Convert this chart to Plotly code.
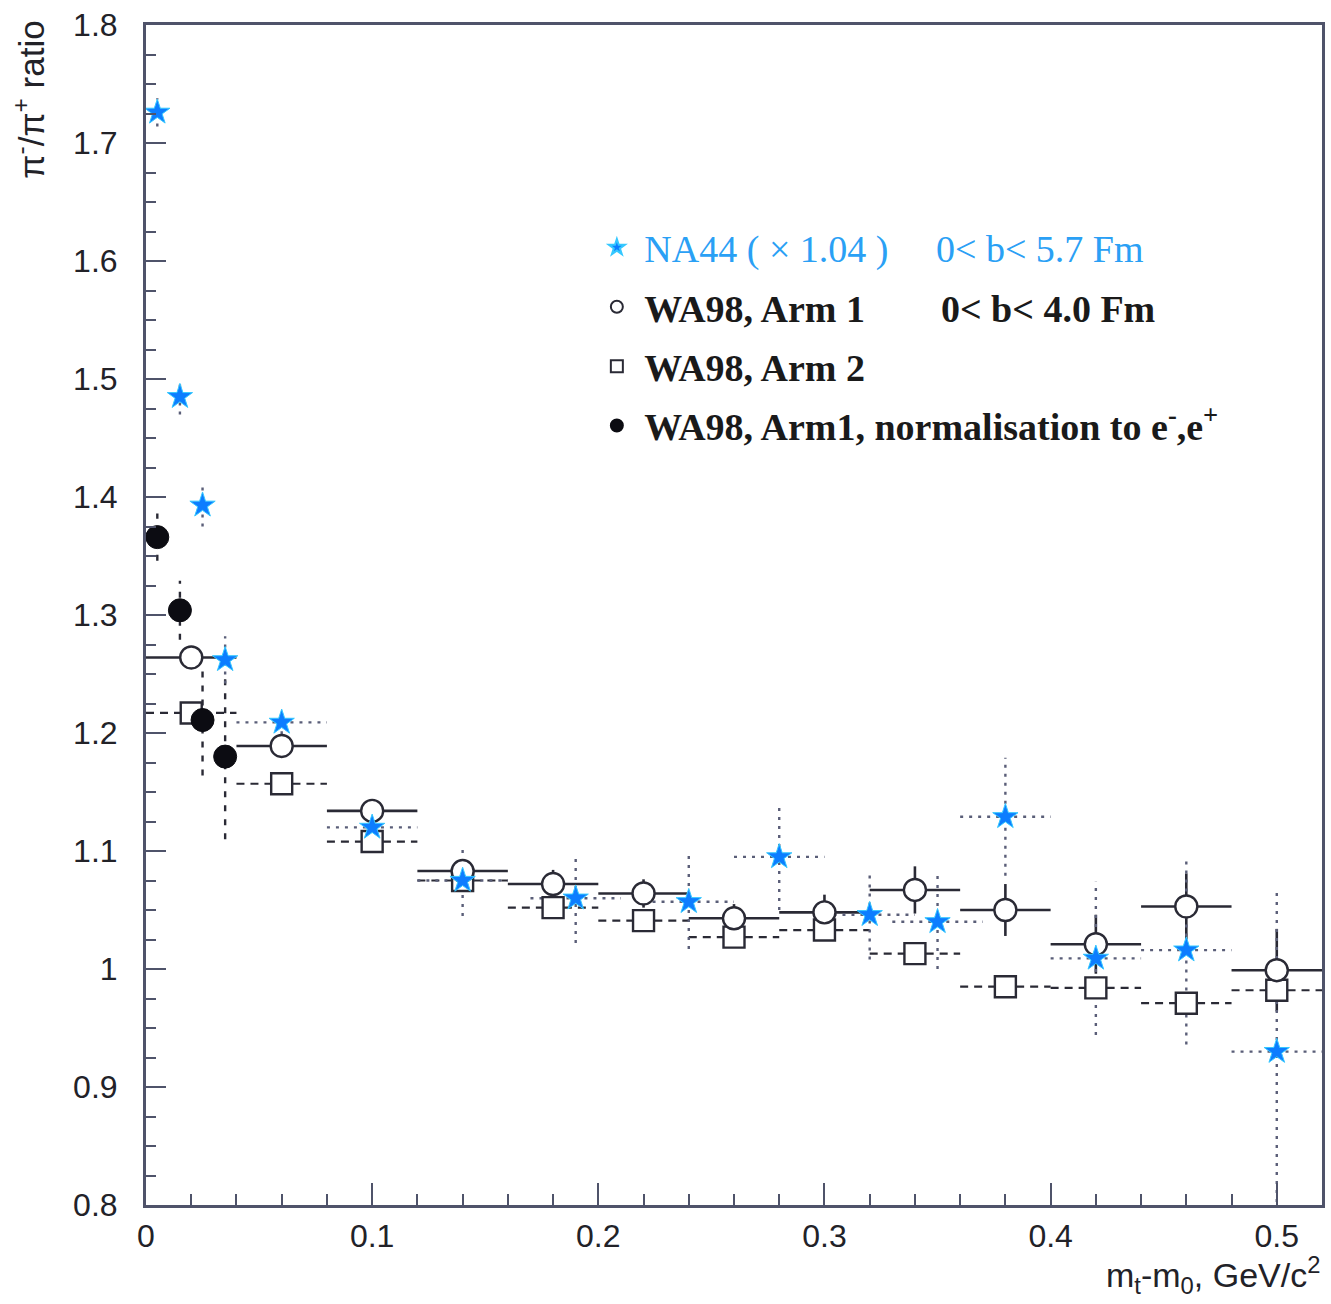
import plotly.graph_objects as go

# ---- data -------------------------------------------------------------
# NA44 (scaled x 1.04), 0 < b < 5.7 fm
na44_x = [0.005, 0.015, 0.025, 0.035, 0.06, 0.10, 0.14, 0.19, 0.24, 0.28, 0.32, 0.35, 0.38, 0.42, 0.46, 0.50]
na44_y = [1.726, 1.485, 1.393, 1.262, 1.209, 1.120, 1.075, 1.060, 1.057, 1.095, 1.046, 1.040, 1.129, 1.009, 1.016, 0.930]
na44_xerr = [0, 0, 0, 0, 0.02, 0.02, 0.02, 0.02, 0.02, 0.02, 0.02, 0.02, 0.02, 0.02, 0.02, 0.02]
na44_yerr = [0.012, 0.015, 0.018, 0.02, 0.01, 0.012, 0.03, 0.038, 0.04, 0.045, 0.038, 0.04, 0.05, 0.065, 0.08, 0.135]

# WA98 Arm 1, 0 < b < 4.0 fm
arm1_x = [0.02, 0.06, 0.10, 0.14, 0.18, 0.22, 0.26, 0.30, 0.34, 0.38, 0.42, 0.46, 0.50]
arm1_y = [1.264, 1.189, 1.134, 1.083, 1.072, 1.064, 1.043, 1.048, 1.067, 1.050, 1.021, 1.053, 0.999]
arm1_xerr = [0.02] * 13
arm1_yerr = [0.008, 0.008, 0.01, 0.01, 0.012, 0.012, 0.012, 0.015, 0.02, 0.022, 0.025, 0.028, 0.035]

# WA98 Arm 2
arm2_x = [0.02, 0.06, 0.10, 0.14, 0.18, 0.22, 0.26, 0.30, 0.34, 0.38, 0.42, 0.46, 0.50]
arm2_y = [1.217, 1.157, 1.108, 1.075, 1.052, 1.041, 1.027, 1.033, 1.013, 0.985, 0.984, 0.971, 0.982]
arm2_xerr = [0.02] * 13

# WA98 Arm 1, normalisation to e-, e+
norm_x = [0.005, 0.015, 0.025, 0.035]
norm_y = [1.366, 1.304, 1.211, 1.180]
norm_yerr = [0.02, 0.025, 0.047, 0.07]

x_ticks = [0, 0.1, 0.2, 0.3, 0.4, 0.5]
x_ticktext = ["0", "0.1", "0.2", "0.3", "0.4", "0.5"]
y_ticks = [0.8, 0.9, 1.0, 1.1, 1.2, 1.3, 1.4, 1.5, 1.6, 1.7, 1.8]
y_ticktext = ["0.8", "0.9", "1", "1.1", "1.2", "1.3", "1.4", "1.5", "1.6", "1.7", "1.8"]

STAR_BLUE = "#0d7dff"
LABEL_BLUE = "#2aa0f5"
FRAME = "#4f536a"


def segments(x, y, xerr=None, yerr=None):
    """Build None-separated line segments for horizontal / vertical error bars."""
    xs, ys = [], []
    for i in range(len(x)):
        if xerr is not None and xerr[i] > 0:
            xs += [x[i] - xerr[i], x[i] + xerr[i], None]
            ys += [y[i], y[i], None]
        if yerr is not None and yerr[i] > 0:
            xs += [x[i], x[i], None]
            ys += [y[i] - yerr[i], y[i] + yerr[i], None]
    return xs, ys


fig = go.Figure()

# ---- error bars -------------------------------------------------------
ex, ey = segments(arm2_x, arm2_y, xerr=arm2_xerr)
fig.add_trace(go.Scatter(x=ex, y=ey, mode="lines", showlegend=False, hoverinfo="skip",
                         line=dict(color="#2a2a35", width=2.2, dash="8px,6px")))
ex, ey = segments(arm1_x, arm1_y, xerr=arm1_xerr, yerr=arm1_yerr)
fig.add_trace(go.Scatter(x=ex, y=ey, mode="lines", showlegend=False, hoverinfo="skip",
                         line=dict(color="#2a2a35", width=2.6)))
ex, ey = segments(norm_x, norm_y, yerr=norm_yerr)
fig.add_trace(go.Scatter(x=ex, y=ey, mode="lines", showlegend=False, hoverinfo="skip",
                         line=dict(color="#2a2a35", width=2.4, dash="6px,8px")))
ex, ey = segments(na44_x, na44_y, xerr=na44_xerr, yerr=na44_yerr)
fig.add_trace(go.Scatter(x=ex, y=ey, mode="lines", showlegend=False, hoverinfo="skip",
                         line=dict(color="#5a5e78", width=2.4, dash="3px,6px")))

# ---- markers ----------------------------------------------------------
legend_font = dict(family="Liberation Serif, Times New Roman, serif", size=38, color="#1a1a1a")
nb = "\u00a0"

fig.add_trace(go.Scatter(
    x=arm2_x, y=arm2_y, mode="markers", legendgroup="g3", legendrank=3,
    name="<b>WA98, Arm 2</b>",
    marker=dict(symbol="square", size=21, color="white", line=dict(color="#2a2a35", width=2.4))))
fig.add_trace(go.Scatter(
    x=arm1_x, y=arm1_y, mode="markers", legendgroup="g2", legendrank=2,
    name="<b>WA98, Arm 1" + nb * 8 + "0&lt; b&lt; 4.0 Fm</b>",
    marker=dict(symbol="circle", size=22, color="white", line=dict(color="#2a2a35", width=2.4))))
fig.add_trace(go.Scatter(
    x=norm_x, y=norm_y, mode="markers", legendgroup="g4", legendrank=4,
    name="<b>WA98, Arm1, normalisation to e<sup>-</sup>,e<sup>+</sup></b>",
    marker=dict(symbol="circle", size=23, color="#0c0c12", line=dict(color="#0c0c12", width=1))))
fig.add_trace(go.Scatter(
    x=na44_x, y=na44_y, mode="markers", legendgroup="g1", legendrank=1,
    name='<span style="color:' + LABEL_BLUE + '">NA44 ( × 1.04 )' + nb * 5
         + "0&lt; b&lt; 5.7 Fm</span>",
    marker=dict(symbol="star", size=19, color=STAR_BLUE, line=dict(color="#35c8ff", width=1))))

# ---- axes -------------------------------------------------------------
tick_font = dict(family="Liberation Sans, Arial, sans-serif", size=32, color="#222228")

fig.update_xaxes(
    range=[0, 0.52], tickvals=x_ticks, ticktext=x_ticktext, tickfont=tick_font,
    ticks="inside", ticklen=22, tickwidth=2, tickcolor=FRAME,
    minor=dict(dtick=0.02, tick0=0, ticks="inside", ticklen=11, tickwidth=2, tickcolor=FRAME),
    showline=True, linecolor=FRAME, linewidth=3, mirror=True,
    showgrid=False, zeroline=False, ticklabelstandoff=1)
fig.update_yaxes(
    range=[0.8, 1.8], tickvals=y_ticks, ticktext=y_ticktext, tickfont=tick_font,
    ticks="inside", ticklen=20, tickwidth=2, tickcolor=FRAME,
    minor=dict(dtick=0.025, tick0=0.8, ticks="inside", ticklen=10, tickwidth=2, tickcolor=FRAME),
    showline=True, linecolor=FRAME, linewidth=3, mirror=True,
    showgrid=False, zeroline=False, ticklabelstandoff=19)

# ---- axis titles ------------------------------------------------------
fig.add_annotation(
    text="π<sup>-</sup>/π<sup>+</sup> ratio", textangle=-90, showarrow=False,
    xref="paper", yref="paper", x=-0.099, y=1.005, xanchor="center", yanchor="top",
    font=dict(family="Liberation Sans, Arial, sans-serif", size=35, color="#222228"))
fig.add_annotation(
    text="m<sub>t</sub>-m<sub>0</sub>, GeV/c<sup>2</sup>", showarrow=False,
    xref="paper", yref="paper", x=1.0, y=-0.037, xanchor="right", yanchor="top",
    font=dict(family="Liberation Sans, Arial, sans-serif", size=34, color="#222228"))

fig.update_layout(
    width=1331, height=1304,
    margin=dict(l=146, r=6, t=25, b=99),
    paper_bgcolor="white", plot_bgcolor="white",
    legend=dict(x=0.377, y=0.838, xanchor="left", yanchor="top", font=legend_font,
                bgcolor="rgba(0,0,0,0)", tracegroupgap=7, itemsizing="constant",
                itemwidth=45, traceorder="grouped"),
)

fig.write_html("out.html")
